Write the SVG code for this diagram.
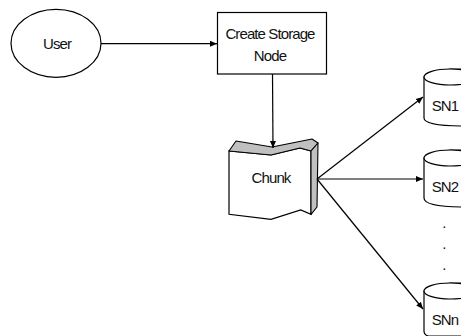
<svg xmlns="http://www.w3.org/2000/svg" width="461" height="336" viewBox="0 0 461 336">
<defs>
<marker id="arrow" markerUnits="userSpaceOnUse" markerWidth="8" markerHeight="8" refX="7" refY="4" orient="auto"><path d="M0,1 L7,4 L0,7 Z" fill="#000"/></marker>
</defs>
<style>
text{font-family:"Liberation Sans",Arial,sans-serif;font-size:15px;fill:#111;text-anchor:middle;letter-spacing:-0.9px}
.s{fill:#fff;stroke:#000;stroke-width:1.2}
.g{fill:#c0c0c0;stroke:#000;stroke-width:1.1;stroke-linejoin:round}
.c{fill:none;stroke:#000;stroke-width:1.2;marker-end:url(#arrow)}
</style>
<rect width="461" height="336" fill="#fff"/>
<g id="user"><ellipse class="s" cx="56" cy="43.300" rx="45" ry="34"/><text x="57" y="48.500">User</text></g>
<g id="create"><rect class="s" x="217.500" y="12.500" width="109" height="61.500"/><text x="270" y="39">Create Storage</text><text x="270" y="61">Node</text></g>
<g id="chunk">
<path class="s" d="M229,151 V214.300 L271,219.300 L300.700,210 L311,214.300 V151 L300,148 L271,155 Z"/>
<path class="g" d="M229,151 L236,141 L272,147 L312,139 L318,143 L311,151 L300,148 L271,155 Z"/>
<path class="g" d="M311,151 L318,143 L317,207 L311,214.300 Z"/>
<text x="271" y="182.500">Chunk</text>
</g>
<g id="sn1"><path class="s" d="M424,77 V118 C424,123 437,126 465,126 V69 H450 Z"/><ellipse class="s" cx="450" cy="77" rx="26" ry="8"/><text x="445" y="111">SN1</text></g>
<g id="sn2"><path class="s" d="M424,158 V198 C424,204 437,207 465,207 V150 H450 Z"/><ellipse class="s" cx="450" cy="158" rx="26" ry="8"/><text x="445" y="192">SN2</text></g>
<g id="snn"><path class="s" d="M424,291 V331 C424,333 425,335 428,336 H465 V283 H450 Z"/><ellipse class="s" cx="450" cy="291" rx="26" ry="8"/><text x="445" y="325">SNn</text></g>
<g id="dots"><text x="444" y="228">.</text><text x="444" y="249">.</text><text x="444" y="270">.</text></g>
<g id="connectors">
<path class="c" d="M101,43.700 H217"/>
<path class="c" d="M272.500,74 L273,148"/>
<path class="c" d="M317,179 L423,97"/>
<path class="c" d="M317,179 H423"/>
<path class="c" d="M317,179 L423,309"/>
</g>
</svg>
